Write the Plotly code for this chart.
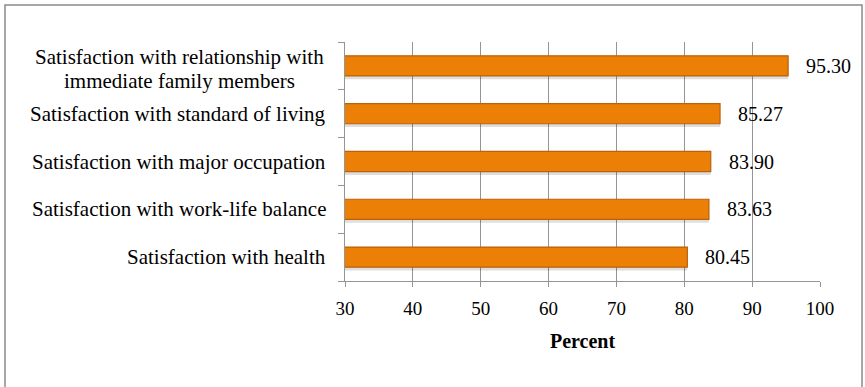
import plotly.graph_objects as go

categories = [
    "Satisfaction with health",
    "Satisfaction with work-life balance",
    "Satisfaction with major occupation",
    "Satisfaction with standard of living",
    "Satisfaction with relationship with<br>immediate family members",
]
values = [80.45, 83.63, 83.90, 85.27, 95.30]
x_ticks = [30, 40, 50, 60, 70, 80, 90, 100]

FONT = "Liberation Serif"
W = 0.42

fig = go.Figure()
# soft shadow under bars
fig.add_trace(go.Bar(
    x=values, y=categories, orientation="h", width=W, offset=-W / 2 - 0.07,
    marker=dict(color="rgba(0,0,0,0.13)", line=dict(width=0)),
    hoverinfo="skip", showlegend=False,
))
fig.add_trace(go.Bar(
    x=values, y=categories, orientation="h", width=W, offset=-W / 2,
    marker=dict(color="#EC7F06", line=dict(color="#B8620C", width=1.2)),
    showlegend=False,
))

for c, v in zip(categories, values):
    lines = c.split("<br>")
    if len(lines) == 1:
        fig.add_annotation(
            x=0, xref="paper", y=c, yref="y", text=c, showarrow=False,
            xanchor="right", xshift=-17,
            font=dict(family=FONT, size=21, color="black"),
        )
    else:
        for line, ys in zip(lines, [9, -15]):
            fig.add_annotation(
                x=0, xref="paper", y=c, yref="y", text=line, showarrow=False,
                xanchor="center", xshift=-166, yshift=ys, borderpad=0,
                font=dict(family=FONT, size=21, color="black"),
            )
    fig.add_annotation(
        x=v, xref="x", y=c, yref="y", text=f"{v:.2f}", showarrow=False,
        xanchor="left", xshift=16,
        font=dict(family=FONT, size=20, color="black"),
    )

fig.update_layout(
    width=865, height=387, barmode="overlay",
    margin=dict(l=345, r=45, t=42, b=106),
    paper_bgcolor="white", plot_bgcolor="white",
    font=dict(family=FONT, size=19, color="black"),
    xaxis=dict(
        range=[30, 100], tickvals=x_ticks, ticktext=[str(t) for t in x_ticks],
        showgrid=True, gridcolor="#959595", gridwidth=1.3,
        showline=True, linecolor="#959595", linewidth=1.3,
        ticks="outside", ticklen=5, tickcolor="#959595",
        tickfont=dict(family=FONT, size=19), ticklabelstandoff=5,
        zeroline=False,
        title=dict(text="<b>Percent</b>", font=dict(family=FONT, size=20), standoff=16),
    ),
    yaxis=dict(
        showticklabels=False, showgrid=False,
        showline=True, linecolor="#959595", linewidth=1.3,
        ticks="outside", ticklen=6, tickcolor="#959595", tickson="boundaries",
        range=[-0.5, 4.5],
    ),
    shapes=[dict(
        type="rect", xref="paper", yref="paper",
        x0=(5 - 345) / 475, x1=(862 - 345) / 475,
        y0=-(395 - 281) / 239, y1=1 + (42 - 5) / 239,
        line=dict(color="#8a8a8a", width=1.5), fillcolor="rgba(0,0,0,0)", layer="below",
    )],
)

fig.write_html("out.html", config={"displayModeBar": False},
               post_script="document.body.style.margin='0';")
